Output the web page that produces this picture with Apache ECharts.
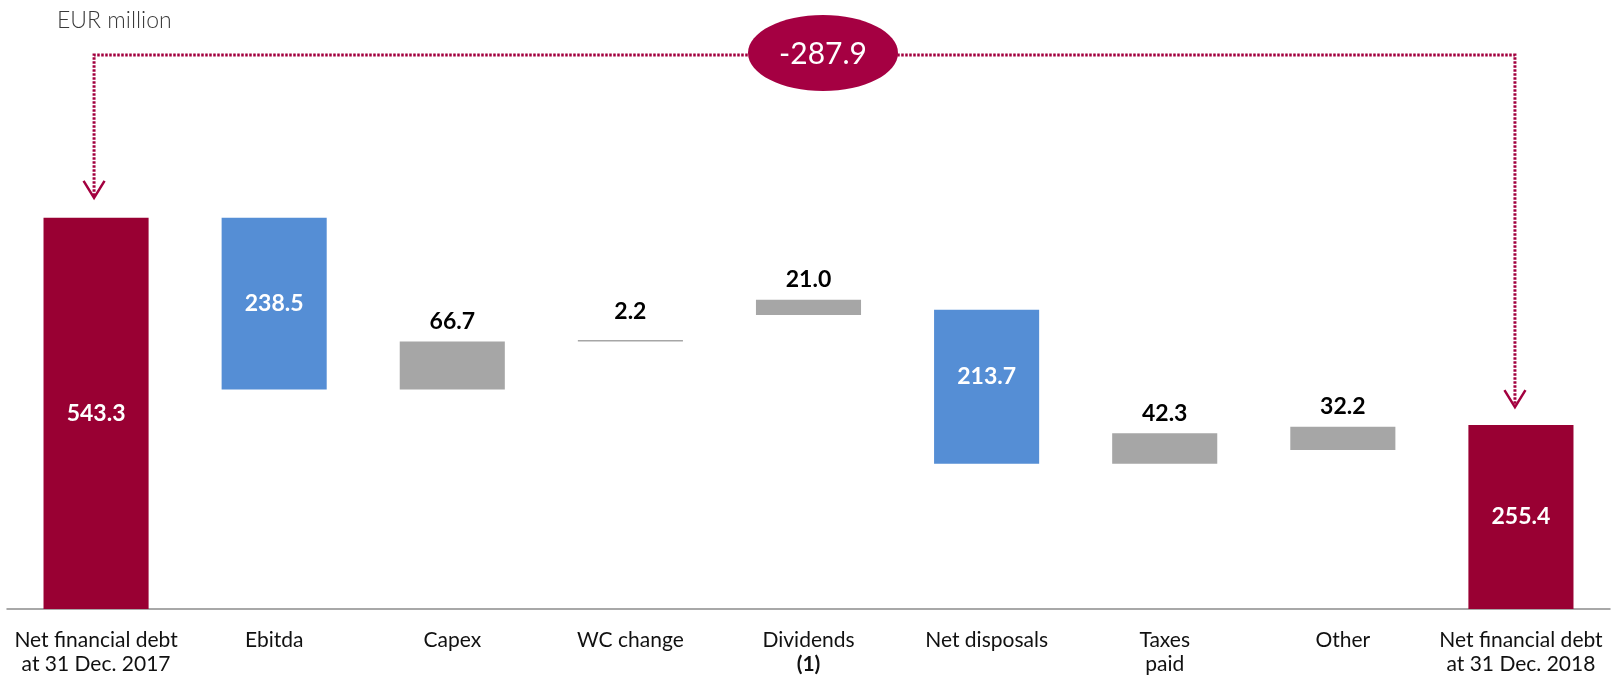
<!DOCTYPE html>
<html>
<head>
<meta charset="utf-8">
<title>Net financial debt bridge</title>
<script src="https://cdn.jsdelivr.net/npm/echarts@6/dist/echarts.min.js"></script>
<style>
    html, body { margin: 0; padding: 0; background: #fff; }
    #main { width: 1611px; height: 682px; }
</style>
</head>
<body>
<div id="main"></div>
<script type="text/javascript">
    // x axis categories
    var categories = ['Net financial debt\nat 31 Dec. 2017', 'Ebitda', 'Capex', 'WC change', 'Dividends\n(1)',
        'Net disposals', 'Taxes\npaid', 'Other', 'Net financial debt\nat 31 Dec. 2018'];
    // visible bar heights (EUR million)
    var amounts = [543.3, 238.5, 66.7, 2.2, 21.0, 213.7, 42.3, 32.2, 255.4];
    // invisible base under each floating bar
    var offsets = [0, 304.8, 304.8, 371.5, 408.4, 201.8, 201.8, 220.9, 0];
    // total / decrease / increase
    var kinds = ['total', 'down', 'up', 'up', 'up', 'down', 'up', 'up', 'total'];

    var colorOf = { total: '#990033', down: '#558ed5', up: '#a6a6a6' };
    var accent = '#a3003f';

    var chart = echarts.init(document.getElementById('main'));

    var barData = [];
    for (var i = 0; i < amounts.length; i++) {
        var k = kinds[i];
        var lab;
        if (k === 'up') {
            lab = { position: 'top', distance: i === 3 ? 17 : 8.5, color: '#000' };
        } else {
            lab = { position: 'inside', color: '#fff', offset: i === 5 ? [0, -10] : [0, 0] };
        }
        barData.push({ value: amounts[i], itemStyle: { color: colorOf[k] }, label: lab });
    }

    var option = {
        animation: false,
        title: {
            text: 'EUR million',
            left: 52,
            top: 4,
            textStyle: { fontFamily: 'Lato', fontWeight: 300, fontSize: 23, color: '#3a3a3a' }
        },
        grid: { left: 7, right: 1, top: 177, bottom: 73 },
        xAxis: {
            type: 'category',
            data: categories,
            axisLine: { lineStyle: { color: '#8c8c8c', width: 1.5 } },
            axisTick: { show: false },
            axisLabel: {
                interval: 0,
                margin: 19,
                color: '#111',
                fontFamily: 'Lato',
                fontSize: 21,
                lineHeight: 24,
                formatter: function (v) {
                    return v.replace('(1)', '{b|(1)}');
                },
                rich: {
                    b: { fontFamily: 'Lato', fontWeight: 'bold', fontSize: 21, lineHeight: 24, color: '#111' }
                }
            }
        },
        yAxis: {
            type: 'value',
            min: 0,
            max: 600,
            show: false,
            splitLine: { show: false }
        },
        series: [
            {
                name: 'base',
                type: 'bar',
                stack: 'bridge',
                barWidth: '59%',
                silent: true,
                itemStyle: { color: 'transparent' },
                data: offsets
            },
            {
                name: 'amount',
                type: 'bar',
                stack: 'bridge',
                barWidth: '59%',
                label: {
                    show: true,
                    fontFamily: 'Lato',
                    fontWeight: 'bold',
                    fontSize: 23,
                    formatter: function (p) { return p.value.toFixed(1); }
                },
                data: barData
            }
        ]
    };
    chart.setOption(option);

    // arrows from opening debt to closing debt, with the change in the bubble
    var first = chart.convertToPixel({ seriesIndex: 1 }, [0, offsets[0] + amounts[0]]);
    var last = chart.convertToPixel({ seriesIndex: 1 }, [8, offsets[8] + amounts[8]]);
    var lineY = 55;
    var xL = first[0] - 2, tipL = first[1] - 20;
    var xR = last[0] - 6, tipR = last[1] - 18;
    var delta = (amounts[8] - amounts[0]).toFixed(1);

    chart.setOption({
        graphic: [
            {
                type: 'polyline',
                shape: { points: [[xL, tipL - 2], [xL, lineY], [xR, lineY], [xR, tipR - 2]] },
                style: { stroke: accent, lineWidth: 3, lineDash: [2.5, 1.5], fill: null },
                z: 5
            },
            {
                type: 'polyline',
                shape: { points: [[xL - 10.5, tipL - 17], [xL, tipL], [xL + 10.5, tipL - 17]] },
                style: { stroke: accent, lineWidth: 2.5, fill: null },
                z: 5
            },
            {
                type: 'polyline',
                shape: { points: [[xR - 10.5, tipR - 17], [xR, tipR], [xR + 10.5, tipR - 17]] },
                style: { stroke: accent, lineWidth: 2.5, fill: null },
                z: 5
            },
            {
                type: 'ellipse',
                shape: { cx: 823, cy: 53, rx: 75, ry: 38 },
                style: { fill: '#a50042' },
                z: 10
            },
            {
                type: 'text',
                x: 823,
                y: 54,
                style: {
                    text: delta,
                    fill: '#fff',
                    fontFamily: 'Lato',
                    fontSize: 30,
                    align: 'center',
                    verticalAlign: 'middle'
                },
                z: 11
            }
        ]
    });
</script>
</body>
</html>
